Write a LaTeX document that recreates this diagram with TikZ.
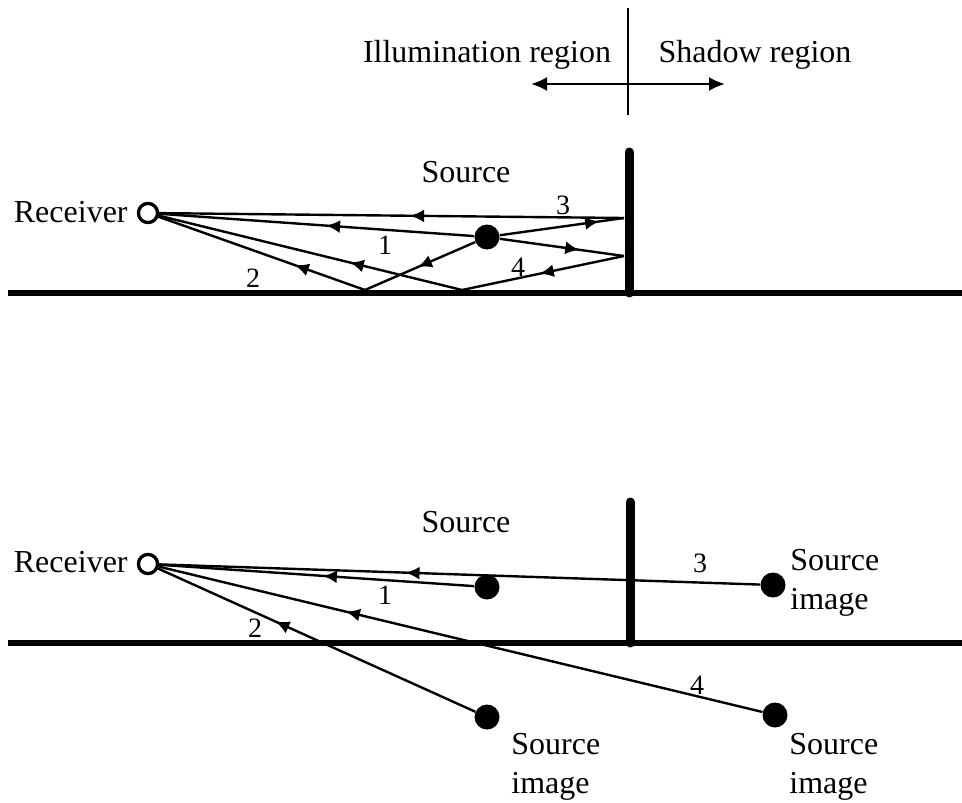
\documentclass[tikz,border=0pt]{standalone}
\usepackage{fontspec}
\setmainfont{Liberation Serif}
\usetikzlibrary{arrows.meta,decorations.markings}

\begin{document}
\begin{tikzpicture}[x=0.5bp,y=-0.5bp,line join=bevel,
  ray/.style={line width=1.2bp},
  midarrow/.style={postaction={decorate},decoration={markings,
    mark=at position #1 with {\arrow{Latex[length=7bp,width=6.5bp]}}}},
  srcdot/.style={circle,fill=black,inner sep=0pt,minimum size=12.5bp},
  rcvdot/.style={circle,draw=black,line width=1.6bp,fill=white,inner sep=0pt,minimum size=9.5bp},
  lbl/.style={inner sep=0pt,font=\fontsize{16bp}{19.5bp}\selectfont},
  num/.style={inner sep=0pt,font=\fontsize{14bp}{16bp}\selectfont},
  wall/.style={line width=4.5bp},
  ground/.style={line width=3bp}]
\useasboundingbox (0,0) rectangle (962,803);
%%
% Header: region split
\coordinate (splitTop) at (628,8);
\coordinate (splitBot) at (628,115);
\coordinate (illumEnd) at (531,84);
\coordinate (shadowEnd) at (725,84);
\draw [line width=1.2bp] (splitTop) -- (splitBot);
\draw [line width=1.2bp,{Latex[length=8bp,width=7bp]}-{Latex[length=8bp,width=7bp]}] (illumEnd) -- (shadowEnd);
\node [lbl] (illum) at (487,55) {Illumination region};
\node [lbl] (shadow) at (755,55) {Shadow region};
%%
% Upper picture: real paths
\node [srcdot] (srcA) at (487,237) {};
\coordinate (wallA3) at (624,218);
\coordinate (wallA4) at (624,256);
\coordinate (gndA2) at (365,290);
\coordinate (gndA4) at (462,290);
\node [rcvdot] (rcvA) at (148,213) {};
% Edge: 1
\draw [ray,midarrow=0.47] (srcA) -- (rcvA);
% Edge: 3
\draw [ray,midarrow=0.8] (srcA) -- (wallA3);
\draw [ray,midarrow=0.46] (wallA3) -- (rcvA);
% Edge: 4
\draw [ray,midarrow=0.64] (srcA) -- (wallA4);
\draw [ray,midarrow=0.52] (wallA4) -- (gndA4);
\draw [ray,midarrow=0.37] (gndA4) -- (rcvA);
% Edge: 2
\draw [ray,midarrow=0.52] (srcA) -- (gndA2);
\draw [ray,midarrow=0.34] (gndA2) -- (rcvA);
\node [rcvdot] at (rcvA) {};
% Ground and barrier
\coordinate (gndAL) at (8,293);
\coordinate (gndAR) at (962,293);
\coordinate (wallATop) at (629,152);
\coordinate (wallABot) at (629,293);
\draw [ground] (gndAL) -- (gndAR);
\draw [wall,line cap=round] (wallATop) -- (wallABot);
% Labels
\node [lbl,anchor=east] (rcvAtxt) at (128,212) {Receiver};
\node [lbl] (srcAtxt) at (466,172) {Source};
\node [num] (numA1) at (385,245) {1};
\node [num] (numA2) at (253,278) {2};
\node [num] (numA3) at (563,205) {3};
\node [num] (numA4) at (518,267) {4};
%%
% Lower picture: image sources
\node [srcdot] (srcB) at (487,587) {};
\node [srcdot] (imgB3) at (773,585) {};
\node [srcdot] (imgB2) at (487,717) {};
\node [srcdot] (imgB4) at (775,715) {};
\node [rcvdot] (rcvB) at (148,564) {};
% Edge: 1
\draw [ray,midarrow=0.48] (srcB) -- (rcvB);
% Edge: 3
\draw [ray,midarrow=0.59] (imgB3) -- (rcvB);
% Edge: 2
\draw [ray,midarrow=0.63] (imgB2) -- (rcvB);
% Edge: 4
\draw [ray,midarrow=0.69] (imgB4) -- (rcvB);
\node [rcvdot] at (rcvB) {};
% Ground and barrier
\coordinate (gndBL) at (8,643);
\coordinate (gndBR) at (962,643);
\coordinate (wallBTop) at (630,502);
\coordinate (wallBBot) at (630,643);
\draw [ground] (gndBL) -- (gndBR);
\draw [wall,line cap=round] (wallBTop) -- (wallBBot);
% Labels
\node [lbl,anchor=east] (rcvBtxt) at (128,562) {Receiver};
\node [lbl] (srcBtxt) at (466,522) {Source};
\node [lbl,anchor=west,align=left] (imgB3txt) at (790,583) {Source\\image};
\node [lbl,anchor=west,align=left] (imgB2txt) at (511,767) {Source\\image};
\node [lbl,anchor=west,align=left] (imgB4txt) at (789,767) {Source\\image};
\node [num] (numB1) at (385,595) {1};
\node [num] (numB2) at (255,628) {2};
\node [num] (numB3) at (700,563) {3};
\node [num] (numB4) at (697,685) {4};
%
\end{tikzpicture}
\end{document}
